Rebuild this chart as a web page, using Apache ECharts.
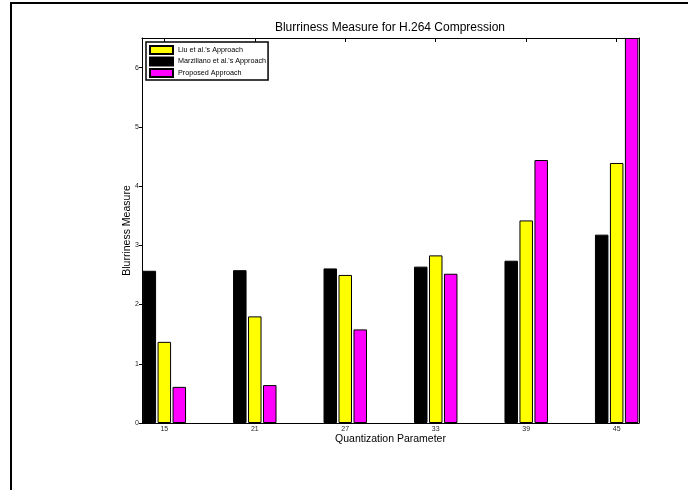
<!DOCTYPE html>
<html>
<head>
<meta charset="utf-8">
<script src="https://cdn.jsdelivr.net/npm/echarts@6/dist/echarts.min.js"></script>
<style>
  html, body { margin: 0; padding: 0; background: #fff; }
  #chart { width: 688px; height: 490px; }
</style>
</head>
<body>
<div id="chart"></div>
<script>
// Quantization parameters (group positions on the x axis)
const qpValues = [15, 21, 27, 33, 39, 45];
// Blurriness measure per method
const marzilianoValues = [2.57, 2.58, 2.61, 2.64, 2.74, 3.18];
const liuValues = [1.37, 1.80, 2.50, 2.83, 3.42, 4.39];
const proposedValues = [0.61, 0.64, 1.58, 2.52, 4.44, 6.5];
// Y tick labels
const yTicks = [0, 1, 2, 3, 4, 5, 6];

const seriesNames = {
  liu: "Liu et al.'s Approach",
  marz: "Marziliano et al.'s Approach",
  prop: "Proposed Approach"
};

const FONT = 'Liberation Sans, Arial, Helvetica, sans-serif';
const X_MIN = 13.52, X_MAX = 46.48;

function pairs(vals) {
  return qpValues.map((q, i) => [q, vals[i]]);
}

function barSeries(name, color, vals) {
  return {
    name: name,
    type: 'bar',
    xAxisIndex: 0,
    yAxisIndex: 0,
    barWidth: 13.5,
    barGap: '11%',
    itemStyle: { color: color, borderColor: '#000', borderWidth: 1 },
    data: pairs(vals)
  };
}

const chart = echarts.init(document.getElementById('chart'), null, { renderer: 'canvas' });

chart.setOption({
  animation: false,
  backgroundColor: '#fff',
  textStyle: { fontFamily: FONT },
  title: {
    text: 'Blurriness Measure for H.264 Compression',
    left: 390,
    top: 22,
    padding: 0,
    textAlign: 'center',
    textStyle: { fontFamily: FONT, fontSize: 12, fontWeight: 'normal', color: '#000' }
  },
  graphic: [{
    type: 'rect',
    z: -10,
    silent: true,
    shape: { x: 11, y: 3, width: 720, height: 520 },
    style: { fill: 'none', stroke: '#000', lineWidth: 2 }
  }],
  legend: {
    data: [seriesNames.liu, seriesNames.marz, seriesNames.prop],
    orient: 'vertical',
    left: 146,
    top: 42,
    padding: [3, 2, 2, 3],
    icon: 'rect',
    itemWidth: 23,
    itemHeight: 8,
    itemGap: 1.5,
    backgroundColor: '#fff',
    borderColor: '#000',
    borderWidth: 1.5,
    borderRadius: 0,
    selectedMode: false,
    textStyle: { fontFamily: FONT, fontSize: 7.2, color: '#000' }
  },
  grid: {
    left: 142,
    right: 49,
    top: 38,
    bottom: 67,
    containLabel: false
  },
  xAxis: [{
    type: 'value',
    position: 'bottom',
    min: X_MIN,
    max: X_MAX,
    name: 'Quantization Parameter',
    nameLocation: 'middle',
    nameGap: 11,
    nameMoveOverlap: false,
    nameTextStyle: { fontFamily: FONT, fontSize: 10.5, color: '#000' },
    splitLine: { show: false },
    axisLine: { show: true, onZero: false, lineStyle: { color: '#000', width: 1 } },
    axisTick: { show: true, inside: true, length: 4, customValues: qpValues, lineStyle: { color: '#000' } },
    axisLabel: { show: true, customValues: qpValues, margin: 3, fontFamily: FONT, fontSize: 7, color: '#222' }
  }, {
    type: 'value',
    position: 'top',
    min: X_MIN,
    max: X_MAX,
    splitLine: { show: false },
    axisLine: { show: true, onZero: false, lineStyle: { color: '#000', width: 1 } },
    axisTick: { show: true, inside: true, length: 4, customValues: qpValues, lineStyle: { color: '#000' } },
    axisLabel: { show: false }
  }],
  yAxis: [{
    type: 'value',
    position: 'left',
    min: 0,
    max: 6.5,
    name: 'Blurriness Measure',
    nameLocation: 'middle',
    nameGap: 9,
    nameMoveOverlap: false,
    nameTextStyle: { fontFamily: FONT, fontSize: 10.5, color: '#000' },
    splitLine: { show: false },
    axisLine: { show: true, onZero: false, lineStyle: { color: '#000', width: 1 } },
    axisTick: { show: true, inside: false, length: 3, customValues: yTicks, lineStyle: { color: '#000' } },
    axisLabel: { show: true, customValues: yTicks, margin: 3, fontFamily: FONT, fontSize: 7, color: '#222' }
  }, {
    type: 'value',
    position: 'right',
    min: 0,
    max: 6.5,
    splitLine: { show: false },
    axisLine: { show: true, onZero: false, lineStyle: { color: '#000', width: 1 } },
    axisTick: { show: false },
    axisLabel: { show: false }
  }],
  series: [
    barSeries(seriesNames.marz, '#000000', marzilianoValues),
    barSeries(seriesNames.liu, '#ffff00', liuValues),
    barSeries(seriesNames.prop, '#ff00ff', proposedValues)
  ]
});
</script>
</body>
</html>
